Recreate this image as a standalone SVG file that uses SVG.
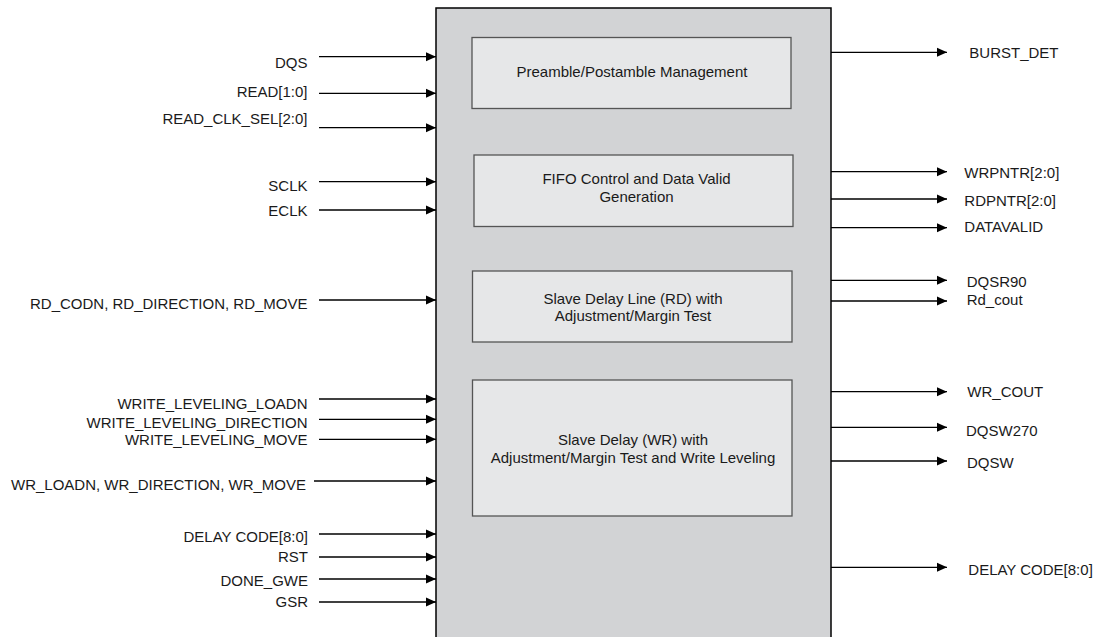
<svg xmlns="http://www.w3.org/2000/svg" width="1099" height="637" viewBox="0 0 1099 637">
<defs>
<marker id="ah" markerUnits="userSpaceOnUse" markerWidth="11" markerHeight="10" refX="10" refY="5" orient="auto">
<path d="M0,0.5 L10,5 L0,9.5 Z" fill="#000"/>
</marker>
<style>
text{font-family:"Liberation Sans",Arial,sans-serif;font-size:15px;fill:#1a1a1a}
.l{text-anchor:end}
.c{text-anchor:middle}
.w{stroke:#000;stroke-width:1.3;fill:none;marker-end:url(#ah)}
.main{fill:#d2d3d5;stroke:#000;stroke-width:1.5}
.sub{fill:#e6e7e8;stroke:#555;stroke-width:1.3}
</style>
</defs>
<rect width="1099" height="637" fill="#fff"/>
<g id="main-block"><rect class="main" x="436" y="8" width="395" height="640"/></g>
<g id="preamble"><rect class="sub" x="472" y="37.5" width="319" height="71"/>
<text class="c" x="632" y="77">Preamble/Postamble Management</text></g>
<g id="fifo"><rect class="sub" x="474" y="155" width="319" height="71.5"/>
<text class="c" x="636.5" y="184">FIFO Control and Data Valid</text>
<text class="c" x="636.5" y="202">Generation</text></g>
<g id="slave-rd"><rect class="sub" x="472.5" y="271" width="319.5" height="71"/>
<text class="c" x="633" y="303.5">Slave Delay Line (RD) with</text>
<text class="c" x="633" y="321">Adjustment/Margin Test</text></g>
<g id="slave-wr"><rect class="sub" x="472.5" y="380" width="319.5" height="136"/>
<text class="c" x="633" y="445">Slave Delay (WR) with</text>
<text class="c" x="633" y="462.5">Adjustment/Margin Test and Write Leveling</text></g>
<g id="connectors">
<path class="w" d="M319,56.7H436"/>
<path class="w" d="M319,93.3H436"/>
<path class="w" d="M319,127.7H436"/>
<path class="w" d="M319,181.7H436"/>
<path class="w" d="M319,210H436"/>
<path class="w" d="M319,300H436"/>
<path class="w" d="M319,399H436"/>
<path class="w" d="M319,419.3H436"/>
<path class="w" d="M319,439.3H436"/>
<path class="w" d="M314,481H436"/>
<path class="w" d="M319,534H436"/>
<path class="w" d="M319,557H436"/>
<path class="w" d="M319,579H436"/>
<path class="w" d="M319,602H436"/>
<path class="w" d="M831,52.3H947"/>
<path class="w" d="M831,171.7H947"/>
<path class="w" d="M831,199H947"/>
<path class="w" d="M831,227.7H947"/>
<path class="w" d="M831,280.3H947"/>
<path class="w" d="M831,301H947"/>
<path class="w" d="M831,391.7H947"/>
<path class="w" d="M831,427.3H947"/>
<path class="w" d="M831,461H947"/>
<path class="w" d="M831,567.3H947"/>
</g>
<g id="input-labels">
<text class="l" x="307.5" y="68">DQS</text>
<text class="l" x="307.5" y="97">READ[1:0]</text>
<text class="l" x="307.5" y="124.3">READ_CLK_SEL[2:0]</text>
<text class="l" x="307.5" y="190.5">SCLK</text>
<text class="l" x="307.5" y="216">ECLK</text>
<text class="l" x="307.5" y="309">RD_CODN, RD_DIRECTION, RD_MOVE</text>
<text class="l" x="307.5" y="409">WRITE_LEVELING_LOADN</text>
<text class="l" x="307.5" y="428.3">WRITE_LEVELING_DIRECTION</text>
<text class="l" x="307.5" y="445">WRITE_LEVELING_MOVE</text>
<text class="l" x="306" y="490">WR_LOADN, WR_DIRECTION, WR_MOVE</text>
<text class="l" x="308" y="542.3">DELAY CODE[8:0]</text>
<text class="l" x="308" y="562.3">RST</text>
<text class="l" x="308" y="585.7">DONE_GWE</text>
<text class="l" x="308" y="606.7">GSR</text>
</g>
<g id="output-labels">
<text x="969.3" y="58.3">BURST_DET</text>
<text x="964.3" y="177.7">WRPNTR[2:0]</text>
<text x="964.3" y="206">RDPNTR[2:0]</text>
<text x="964.3" y="232.3">DATAVALID</text>
<text x="966.7" y="287.3">DQSR90</text>
<text x="966.7" y="305">Rd_cout</text>
<text x="967.3" y="396.7">WR_COUT</text>
<text x="966" y="436">DQSW270</text>
<text x="967" y="467.7">DQSW</text>
<text x="968.3" y="575">DELAY CODE[8:0]</text>
</g>
</svg>
